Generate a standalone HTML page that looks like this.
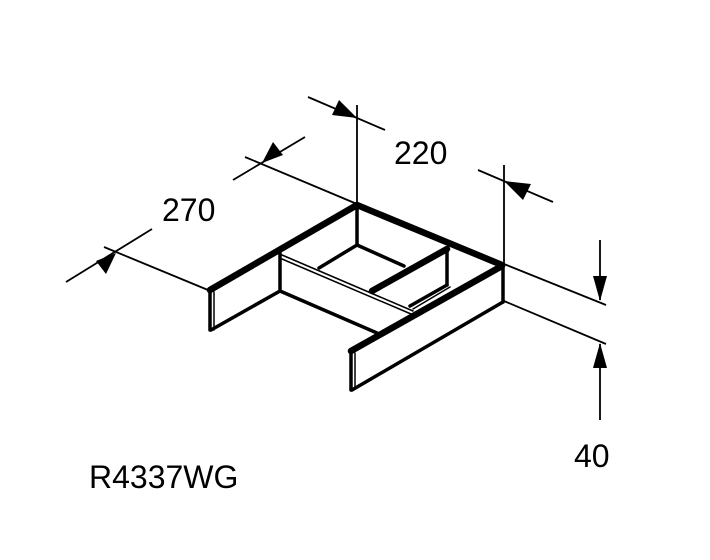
<!DOCTYPE html>
<html><head><style>html,body{margin:0;padding:0;background:#fff}svg{display:block}</style></head>
<body>
<svg width="710" height="560" viewBox="0 0 710 560" xmlns="http://www.w3.org/2000/svg">
<g stroke="#000" fill="none" stroke-width="1.8">
<line x1="357" y1="105" x2="357" y2="204"/>
<line x1="504" y1="165" x2="504" y2="266"/>
<line x1="245" y1="157" x2="357" y2="204"/>
<line x1="104" y1="247" x2="208" y2="290"/>
<line x1="504" y1="264" x2="606" y2="305"/>
<line x1="504" y1="301" x2="606" y2="344"/>
<line x1="308" y1="97" x2="385" y2="130"/>
<line x1="478" y1="170" x2="553" y2="202"/>
<line x1="233" y1="180" x2="305" y2="137"/>
<line x1="66" y1="282" x2="152" y2="229"/>
<line x1="600" y1="240" x2="600" y2="300"/>
<line x1="600" y1="420" x2="600" y2="344"/>
</g>
<g fill="#000">
<path d="M357,118 L332,115 L339,100 Z"/>
<path d="M504,181 L531,184 L523,200 Z"/>
<path d="M262,163 L273,142 L283,155 Z"/>
<path d="M116,253 L106,274 L96,261 Z"/>
<path d="M600,301 L593,276 L607,276 Z"/>
<path d="M600,343 L593,368 L607,368 Z"/>
</g>
<g stroke="#000" fill="none" stroke-linecap="round" stroke-linejoin="round">
<g stroke-width="6.5">
<line x1="210" y1="290" x2="357" y2="205"/>
<line x1="357" y1="205" x2="502" y2="265"/>
<line x1="351" y1="351" x2="502" y2="266"/>
<line x1="447" y1="249" x2="372" y2="291"/>
</g>
<g stroke-width="3.5">
<line x1="210" y1="290" x2="210" y2="330"/>
<line x1="351" y1="351" x2="351" y2="390"/>
<line x1="503" y1="266" x2="503" y2="302"/>
<line x1="211" y1="330" x2="280" y2="291"/>
<line x1="352" y1="390" x2="503" y2="302"/>
<line x1="280" y1="253" x2="280" y2="291"/>
<line x1="280" y1="291" x2="377" y2="333"/>
<line x1="357" y1="205" x2="357" y2="245"/>
<line x1="357" y1="245" x2="319" y2="268"/>
<line x1="357" y1="245" x2="404" y2="266"/>
<line x1="447" y1="249" x2="447" y2="285"/>
<line x1="447" y1="285" x2="410" y2="306"/>
</g>
<g stroke-width="1.5">
<line x1="282" y1="255" x2="413" y2="311"/>
<line x1="282" y1="259" x2="411" y2="314"/>
<line x1="214" y1="292" x2="214" y2="330"/>
<line x1="355" y1="353" x2="355" y2="389"/>
<line x1="450" y1="287" x2="413" y2="309"/>
</g>
</g>
<g font-family="'Liberation Sans',sans-serif" font-size="32" fill="#000">
<text x="394" y="164">220</text>
<text x="162" y="221">270</text>
<text x="574" y="467">40</text>
<text x="89" y="488">R4337WG</text>
</g>
</svg>
</body></html>
